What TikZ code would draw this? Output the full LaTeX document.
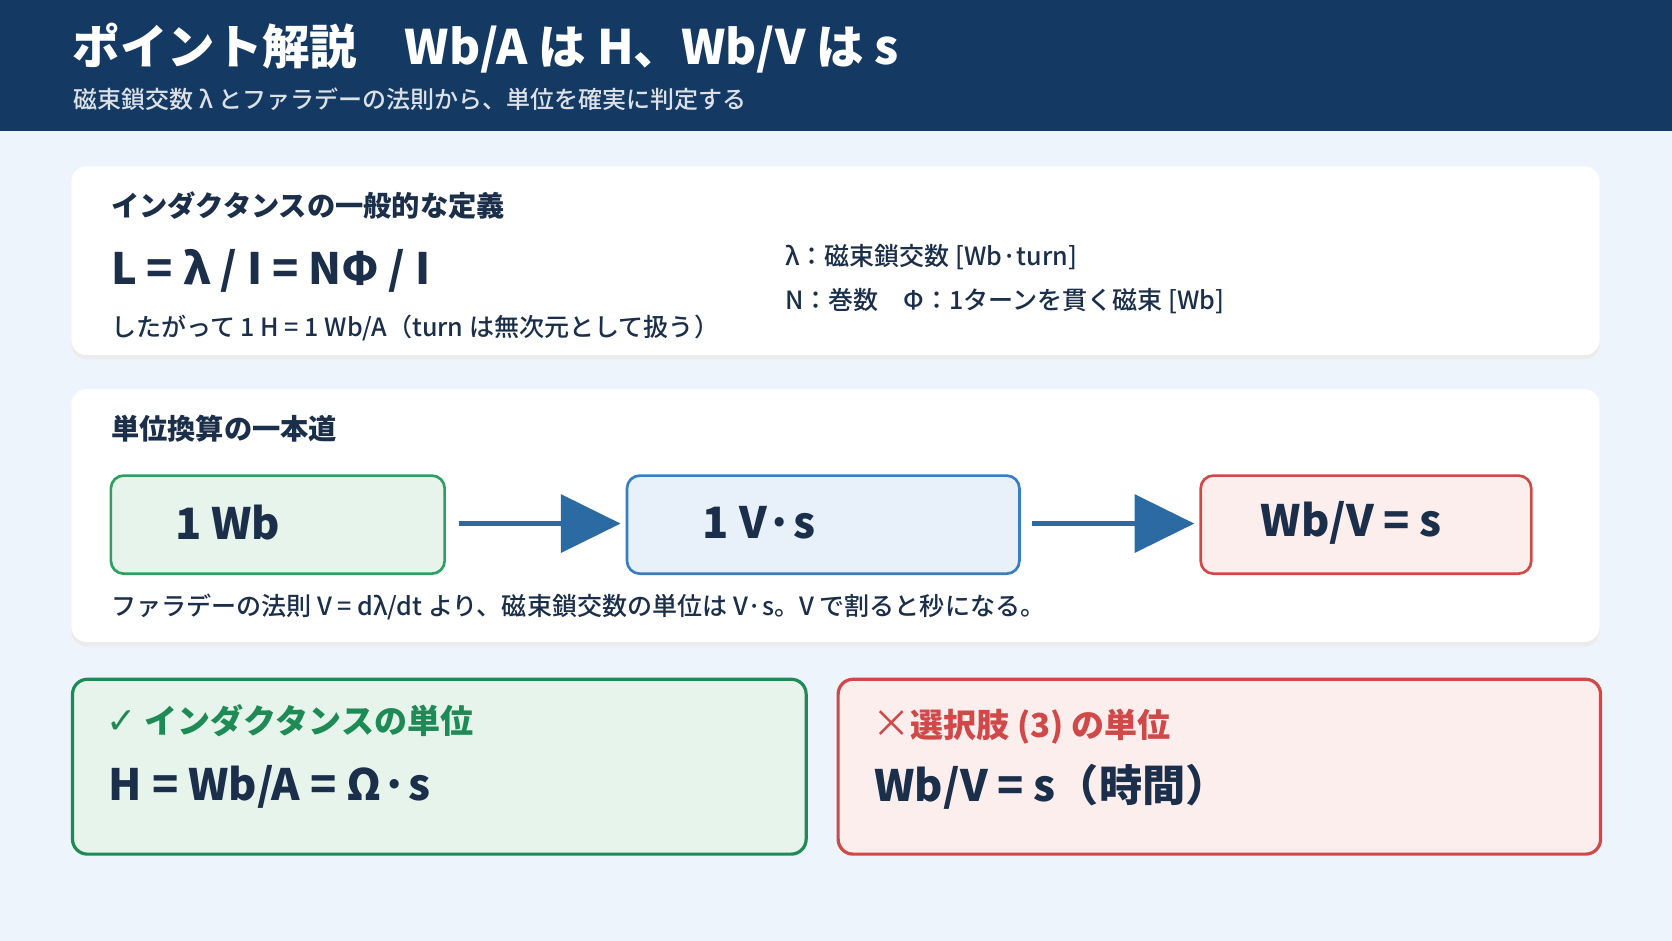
\documentclass[tikz,border=0pt]{standalone}
\usepackage{fontspec}
\setmainfont{Noto Sans CJK JP}
\newfontfamily\med{Noto Sans CJK JP Medium}
\newfontfamily\dv{DejaVu Sans}
\usetikzlibrary{arrows.meta}
\definecolor{navy}{HTML}{143A63}
\definecolor{bg}{HTML}{EEF4FB}
\definecolor{ink}{HTML}{1B2F4A}
\definecolor{gfill}{HTML}{E6F4EC}
\definecolor{gline}{HTML}{2E9E62}
\definecolor{gdark}{HTML}{1E8A55}
\definecolor{bfill}{HTML}{E8F0FA}
\definecolor{bline}{HTML}{3A7DC0}
\definecolor{rfill}{HTML}{FDEEEE}
\definecolor{rline}{HTML}{D04848}
\definecolor{arr}{HTML}{2B6AA3}
\tikzset{
 card/.style={fill=white,rounded corners=14pt,draw=none},
 shadow/.style={fill=black!8,rounded corners=14pt,draw=none},
 txt/.style={anchor=west,inner sep=0pt,text=ink},
 head/.style={txt,font=\fontsize{26.5}{30}\selectfont\bfseries},
 small/.style={txt,font=\fontsize{23.5}{27}\selectfont\med},
 big/.style={txt,font=\fontsize{40.5}{46}\selectfont\bfseries},
 ubox/.style={rounded corners=12pt,line width=2.5pt},
 conv/.style={line width=4.5pt,arr,-{Triangle[length=56pt,width=54pt]}},
}
\begin{document}
\begin{tikzpicture}[x=1pt,y=-1pt]
\useasboundingbox (0,0) rectangle (1568,882);
\fill[bg] (0,0) rectangle (1568,882);
\fill[navy] (0,0) rectangle (1568,123);
\node[anchor=west,inner sep=0pt,text=white,font=\fontsize{44.5}{50}\selectfont\bfseries] (title) at (68,45) {ポイント解説　Wb/A は H、Wb/V は s};
\node[anchor=west,inner sep=0pt,text=white!85!navy,font=\fontsize{22.5}{26}\selectfont\med] (sub) at (69,93) {磁束鎖交数 λ とファラデーの法則から、単位を確実に判定する};
% card 1
\fill[shadow] (67,159) rectangle (1500,337);
\fill[card] (67,156) rectangle (1500,333);
\node[head] (h1) at (104,193) {インダクタンスの一般的な定義};
\node[big] (f1) at (104,254) {L = λ / I = NΦ / I};
\node[small] (t1) at (104,308) {したがって 1 H = 1 Wb/A（turn は無次元として扱う）};
\node[small] (r1) at (736,241) {λ：磁束鎖交数 [Wb·turn]};
\node[small] (r2) at (736,282) {N：巻数　Φ：1ターンを貫く磁束 [Wb]};
% card 2
\fill[shadow] (67,368) rectangle (1500,606);
\fill[card] (67,365) rectangle (1500,602);
\node[head] (h2) at (104,402) {単位換算の一本道};
\draw[ubox,fill=gfill,draw=gline] (104,446) rectangle (417,538);
\draw[ubox,fill=bfill,draw=bline] (588,446) rectangle (956,538);
\draw[ubox,fill=rfill,draw=rline] (1126,446) rectangle (1436,538);
\node[big] (wb) at (164,490) {1 Wb};
\node[big] (vs) at (659,490) {1 V·s};
\node[big] (ws) at (1182,490) {Wb/V = s};
\coordinate (a1) at (430,491); \coordinate (a2) at (582,491);
\coordinate (b1) at (968,491); \coordinate (b2) at (1120,491);
\draw[conv] (a1) -- (a2);
\draw[conv] (b1) -- (b2);
\node[small] (cap) at (104,569) {ファラデーの法則 V = dλ/dt より、磁束鎖交数の単位は V·s。V で割ると秒になる。};
% bottom
\draw[line width=3pt,draw=gdark,fill=gfill,rounded corners=14pt] (68,637) rectangle (756,801);
\draw[line width=3pt,draw=rline,fill=rfill,rounded corners=14pt] (786,637) rectangle (1501,801);
\node[txt,text=gdark,font=\fontsize{31}{35}\selectfont\bfseries] (gh) at (100,676) {{\dv\fontsize{34}{36}\selectfont ✓} インダクタンスの単位};
\node[big] (gf) at (102,738) {H = Wb/A = Ω·s};
\node[txt,text=rline,font=\fontsize{31}{35}\selectfont\bfseries] (rh) at (818,681) {{\mdseries\fontsize{36}{36}\selectfont ×}選択肢 (3) の単位};
\node[big] (rf) at (820,738) {Wb/V = s（時間）};
\end{tikzpicture}
\end{document}
